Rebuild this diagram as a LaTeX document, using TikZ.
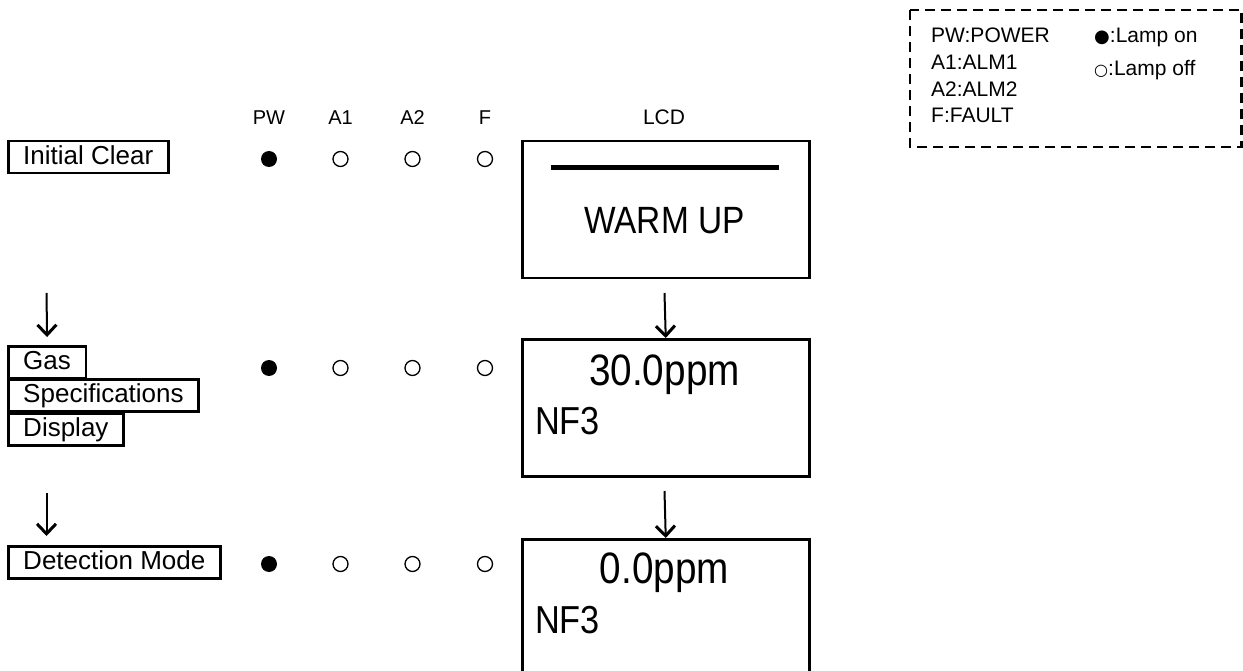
\documentclass[tikz,border=0pt]{standalone}
\usepackage{fontspec}
\setmainfont{Liberation Sans}
\newfontfamily\narrowfont[FakeStretch=0.88]{Liberation Sans}
\newfontfamily\symfont{DejaVu Sans}
\usetikzlibrary{arrows.meta}
\begin{document}
\begin{tikzpicture}[x=1pt,y=-1pt,
  stepbox/.style={draw,line width=2.5pt,anchor=north west,inner xsep=15pt,inner ysep=4pt,
    text height=19pt,text depth=5pt,font=\fontsize{26}{26}\selectfont},
  lamplabel/.style={anchor=base,font=\fontsize{20}{20}\selectfont},
  lampon/.style={circle,fill=black,minimum size=16pt,inner sep=0pt},
  lampoff/.style={circle,draw,line width=1.3pt,minimum size=15pt,inner sep=0pt},
  lcd/.style={draw,line width=2.5pt,inner sep=0pt},
  lcdtext/.style={inner sep=0pt,font=\narrowfont\fontsize{44}{44}\selectfont},
  lcdsmall/.style={inner sep=0pt,anchor=base west,font=\narrowfont\fontsize{39}{39}\selectfont},
  legtext/.style={inner sep=0pt,anchor=base west,font=\fontsize{21}{21}\selectfont},
  flow/.style={line width=2pt,-{Straight Barb[length=10pt,width=19pt,line width=3pt]}}
]
\clip (0,0) rectangle (1243,671);
\useasboundingbox (0,0) rectangle (1243,671);

% legend
\draw[line width=2.3pt,dash pattern=on 10pt off 6pt] (910,10) rectangle (1241.5,147);
\node[legtext] (lpw) at (931,43) {PW:POWER};
\node[legtext] (la1) at (931,70) {A1:ALM1};
\node[legtext] (la2) at (931,97) {A2:ALM2};
\node[legtext] (lf) at (931,123) {F:FAULT};
\node[legtext] (lon) at (1094,43) {{\symfont\fontsize{18}{18}\selectfont ●}:Lamp on};
\node[legtext] (loff) at (1094,76) {{\symfont\fontsize{16}{16}\selectfont ○}:Lamp off};

% lamp labels
\node[lamplabel] (hpw) at (269,125) {PW};
\node[lamplabel] (ha1) at (340.5,125) {A1};
\node[lamplabel] (ha2) at (412.5,125) {A2};
\node[lamplabel] (hf) at (485,125) {F};
\node[lamplabel,font=\fontsize{21}{21}\selectfont] (hlcd) at (664,125) {LCD};

% left step boxes
\node[stepbox] (init) at (7,140) {Initial Clear};
\node[stepbox] (gas) at (7,345) {Gas};
\node[stepbox] (spec) at (7,378) {Specifications};
\node[stepbox] (disp) at (7,412) {Display};
\node[stepbox] (det) at (7,545) {Detection Mode};

% lamps
\foreach \r/\y in {a/159,b/368,c/564}{
  \node[lampon] (pw\r) at (269,\y) {};
  \node[lampoff] (aone\r) at (340.5,\y) {};
  \node[lampoff] (atwo\r) at (412.5,\y) {};
  \node[lampoff] (f\r) at (485,\y) {};
}

% LCD boxes
\node[lcd,anchor=north west,minimum width=287pt,minimum height=137pt] (lcda) at (521,140) {};
\node[lcd,anchor=north west,minimum width=287pt,minimum height=137pt] (lcdb) at (521,338) {};
\node[lcd,anchor=north west,minimum width=287pt,minimum height=160pt] (lcdc) at (521,538) {};

\draw[line width=5pt] (551,168) coordinate (bara) -- (779,168) coordinate (barb);
\node[inner sep=0pt,font=\narrowfont\fontsize{38}{38}\selectfont,anchor=base] (warm) at (664.5,234) {WARM UP};
\node[lcdtext,anchor=base] (ppmb) at (664.5,385) {30.0ppm};
\node[lcdsmall] (nfb) at (535,434) {NF3};
\node[lcdtext,anchor=base] (ppmc) at (664.5,583) {0.0ppm};
\node[lcdsmall] (nfc) at (535,633) {NF3};

% flow arrows
\coordinate (l1s) at (46.5,293);
\coordinate (l2s) at (46.5,493);
\coordinate (l2e) at (46.5,536);
\coordinate (r1s) at (664.5,293);
\coordinate (r2s) at (664.5,491);
\draw[flow] (l1s) -- ([yshift=8pt]gas.north);
\draw[flow] (l2s) -- (l2e);
\draw[flow] (r1s) -- (lcdb.north);
\draw[flow] (r2s) -- (lcdc.north);
\end{tikzpicture}
\end{document}
